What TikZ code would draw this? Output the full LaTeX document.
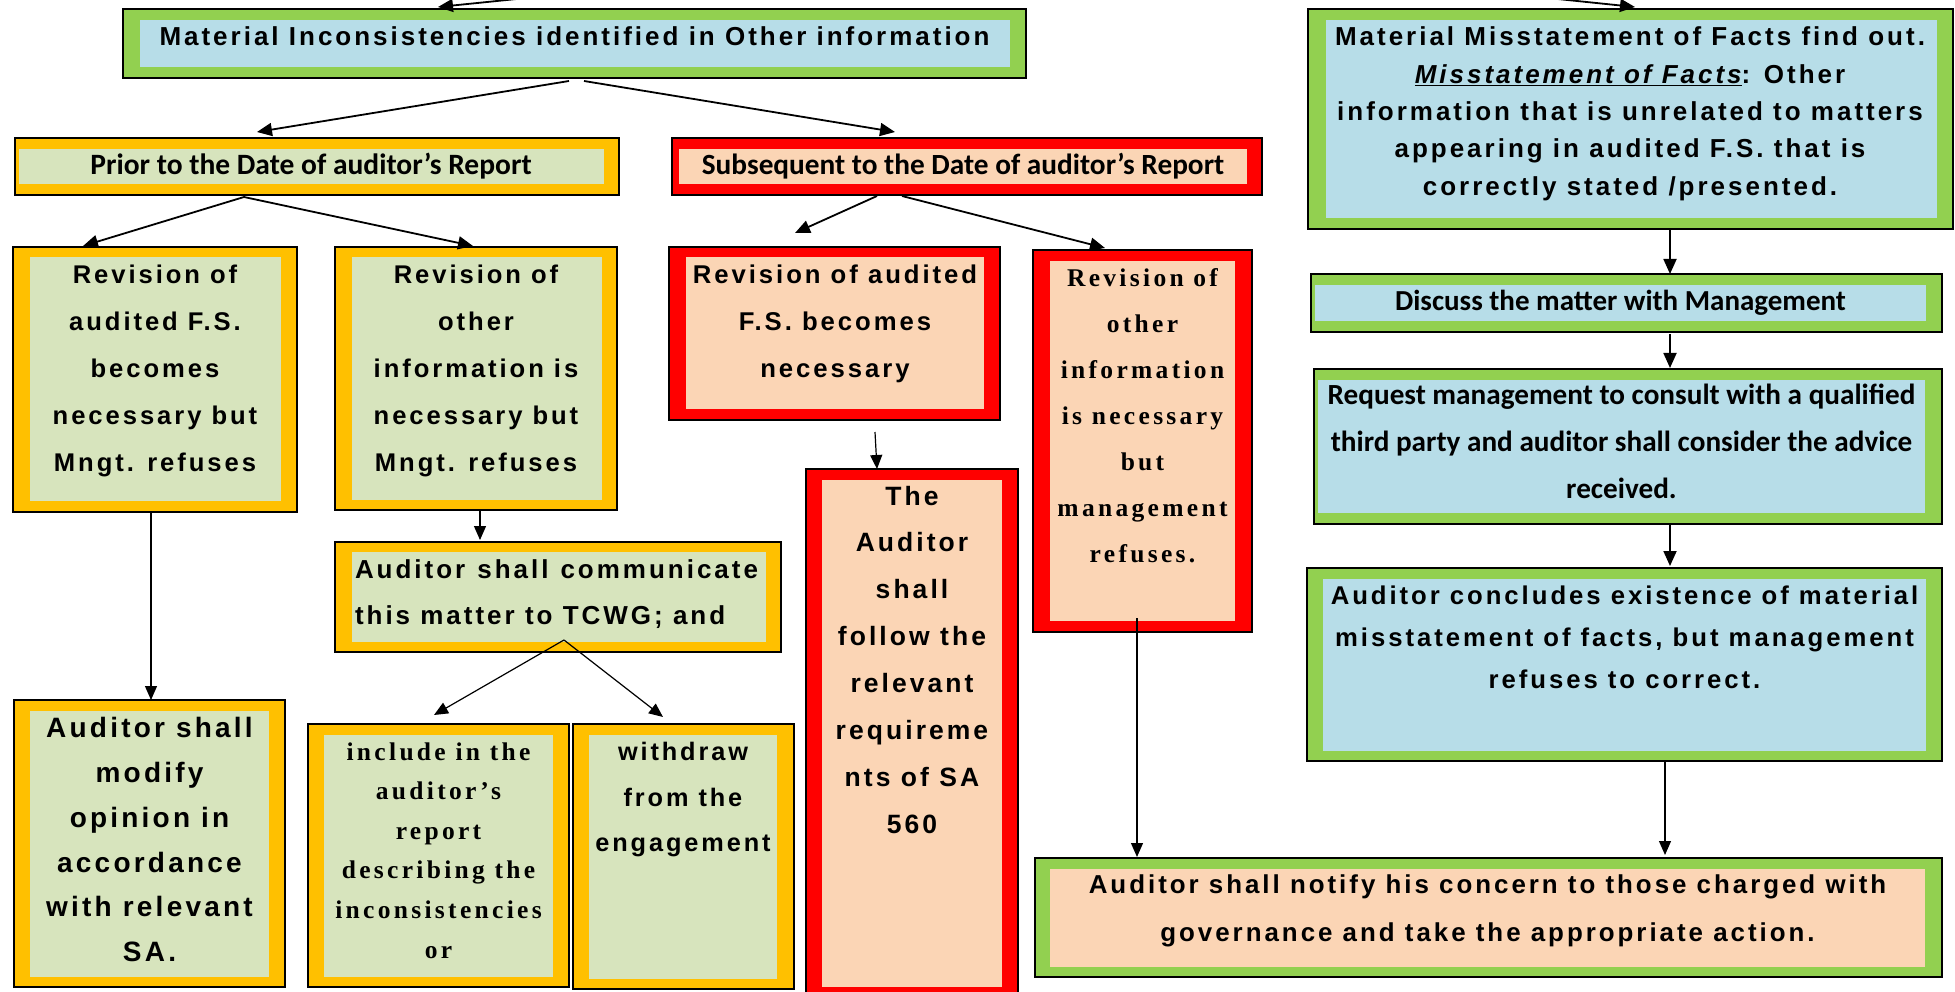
\documentclass[tikz,border=0pt]{standalone}
\usepackage{fontspec}
\usetikzlibrary{arrows.meta,calc}
\newfontfamily\fTrk[LetterSpace=11.5]{Liberation Sans}
\newfontfamily\fSerif[LetterSpace=13]{Liberation Serif}
\newfontfamily\fCal{Carlito}

\definecolor{grnB}{HTML}{92D050}
\definecolor{bluI}{HTML}{B7DDE8}
\definecolor{gldB}{HTML}{FFC000}
\definecolor{olvI}{HTML}{D7E4BD}
\definecolor{redB}{HTML}{FF0000}
\definecolor{pchI}{HTML}{FBD5B5}

\tikzset{
  % framed box: border colour, inner colour, insets left/top/right/bottom
  tbox/.style n args={6}{draw=black, line width=1.3pt, fill=#1, rectangle,
    inner sep=0pt, outer sep=0pt,
    path picture={\fill[#2]
      ([xshift=#3pt,yshift=-#4pt]path picture bounding box.north west) rectangle
      ([xshift=-#5pt,yshift=#6pt]path picture bounding box.south east);}},
  lbl/.style={inner sep=0pt, outer sep=0pt, align=center},
  tsans/.style 2 args={font={\fTrk\bfseries\fontsize{#1}{#2}\selectfont}},
  tserif/.style 2 args={font={\fSerif\bfseries\fontsize{#1}{#2}\selectfont}},
  tcal/.style 2 args={font={\fCal\bfseries\fontsize{#1}{#2}\selectfont}},
  arr/.style={-{Triangle[length=15pt,width=13pt]}, line width=1.8pt},
  arrthin/.style={-{Triangle[length=14pt,width=12pt]}, line width=1.2pt},
}

\begin{document}
\begin{tikzpicture}[x=1pt,y=-1pt]
\useasboundingbox (0,0) rectangle (1955,992);
\clip (0,0) rectangle (1955,992);
\fill[white] (0,0) rectangle (1955,992);

% ---------- boxes ----------
\node[tbox={grnB}{bluI}{17}{11}{16}{11}, minimum width=903pt, minimum height=69pt] (A) at (574.5,43.5) {};
\node[tbox={grnB}{bluI}{18}{11}{16}{11}, minimum width=645pt, minimum height=220pt] (B) at (1630.5,119) {};
\node[tbox={gldB}{olvI}{4}{11}{15}{11}, minimum width=604pt, minimum height=57pt] (P) at (317,166.5) {};
\node[tbox={redB}{pchI}{7}{11}{15}{11}, minimum width=590pt, minimum height=57pt] (S) at (967,166.5) {};
\node[tbox={gldB}{olvI}{17}{10}{16}{11}, minimum width=284pt, minimum height=265pt] (C1) at (155,379.5) {};
\node[tbox={gldB}{olvI}{17}{10}{15}{10}, minimum width=282pt, minimum height=263pt] (C2) at (476,378.5) {};
\node[tbox={gldB}{olvI}{17}{10}{15}{10}, minimum width=446pt, minimum height=110pt] (D) at (558,597) {};
\node[tbox={gldB}{olvI}{16}{11}{16}{10}, minimum width=271pt, minimum height=287pt] (E1) at (149.5,843.5) {};
\node[tbox={gldB}{olvI}{16}{11}{16}{10}, minimum width=261pt, minimum height=263pt] (E2) at (438.5,855.5) {};
\node[tbox={gldB}{olvI}{16}{11}{17}{10}, minimum width=221pt, minimum height=265pt] (E3) at (683.5,856.5) {};
\node[tbox={redB}{pchI}{17}{10}{16}{11}, minimum width=331pt, minimum height=173pt] (F1) at (834.5,333.5) {};
\node[tbox={redB}{pchI}{17}{11}{17}{11}, minimum width=219pt, minimum height=382pt] (F2) at (1142.5,441) {};
\node[tbox={redB}{pchI}{16}{11}{16}{11}, minimum width=212pt, minimum height=529pt] (G) at (912,733.5) {};
\node[tbox={grnB}{bluI}{4}{11}{16}{11}, minimum width=631pt, minimum height=58pt] (Q) at (1626.5,303) {};
\node[tbox={grnB}{bluI}{4}{11}{17}{11}, minimum width=628pt, minimum height=155pt] (R) at (1628,446.5) {};
\node[tbox={grnB}{bluI}{16}{11}{16}{10}, minimum width=635pt, minimum height=193pt] (K) at (1624.5,664.5) {};
\node[tbox={grnB}{pchI}{15}{11}{17}{10}, minimum width=907pt, minimum height=119pt] (H) at (1488.5,917.5) {};

% ---------- texts ----------
\node[lbl, tsans={26}{30}, anchor=base] (At) at (574.5,46)
  {Material Inconsistencies identified in Other information};
\node[lbl, tsans={26}{37.4}, anchor=north] (Bt) at (1630,19.5)
  {\strut Material Misstatement of Facts find out.\\
   \underline{\itshape Misstatement of Facts}: Other\\
   information that is unrelated to matters\\
   appearing in audited F.S. that is\\
   correctly stated /presented.};
\node[lbl, tcal={29.5}{34}, anchor=base] (Pt) at (311,174.5)
  {Prior to the Date of auditor’s Report};
\node[lbl, tcal={29.3}{34}, anchor=base] (St) at (963,175)
  {Subsequent to the Date of auditor’s Report};
\node[lbl, tsans={25.6}{47}, anchor=north] (C1t) at (155,250.1)
  {\strut Revision of\\ audited F.S.\\ becomes\\ necessary but\\ Mngt. refuses};
\node[lbl, tsans={25.6}{47}, anchor=north] (C2t) at (476,250.1)
  {\strut Revision of\\ other\\ information is\\ necessary but\\ Mngt. refuses};
\node[lbl, tsans={26}{46}, anchor=north west, align=left] (Dt) at (355,545.8)
  {\strut\makebox[403pt][s]{Auditor shall communicate}\\ this matter to TCWG; and};
\node[lbl, tsans={28}{44.7}, anchor=north] (E1t) at (149.5,706.7)
  {\strut Auditor shall\\ modify\\ opinion in\\ accordance\\ with relevant\\ SA.};
\node[lbl, tserif={25.5}{39.6}, anchor=north] (E2t) at (438.5,732.3)
  {\strut include in the\\ auditor’s\\ report\\ describing the\\ inconsistencies\\ or};
\node[lbl, tsans={25.3}{45.5}, anchor=north] (E3t) at (683,728.8)
  {\strut withdraw\\ from the\\ engagement};
\node[lbl, tsans={25.7}{47}, anchor=north] (F1t) at (835,250.4)
  {\strut Revision of audited\\ F.S. becomes\\ necessary};
\node[lbl, tserif={25.5}{46}, anchor=north] (F2t) at (1142.5,253.8)
  {\strut Revision of\\ other\\ information\\ is necessary\\ but\\ management\\ refuses.};
\node[lbl, tsans={26.5}{46.9}, anchor=north] (Gt) at (912,472.2)
  {\strut The\\ Auditor\\ shall\\ follow the\\ relevant\\ requireme\\ nts of SA\\ 560};
\node[lbl, tcal={29}{34}, anchor=base] (Qt) at (1620.5,311)
  {Discuss the matter with Management};
\node[lbl, tcal={29.2}{47.3}, anchor=north] (Rt) at (1621.5,370.9)
  {\strut Request management to consult with a qualified\\
   third party and auditor shall consider the advice\\ received.};
\node[lbl, tsans={25.7}{42.2}, anchor=north] (Kt) at (1624.5,574.5)
  {\strut Auditor concludes existence of material\\
   misstatement of facts, but management\\ refuses to correct.};
\node[lbl, tsans={25.9}{47.7}, anchor=north] (Ht) at (1487.5,860.6)
  {\strut Auditor shall notify his concern to those charged with\\
   governance and take the appropriate action.};

% ---------- connectors ----------
\coordinate (inL) at (556,-5);
\coordinate (inR) at (1519,-5);
\draw[arr] (inL) -- ($(A.north west)+(315,-2)$);
\draw[arr] (inR) -- ($(B.north west)+(327,-2)$);

\draw[arr] ($(A.south)+(-5.5,3)$) -- ($(P.north)+(-60,-6)$);
\draw[arr] ($(A.south)+(9.5,3)$) -- ($(S.north)+(-72,-6)$);

\draw[arr] ($(P.south)+(-73,2)$) -- ($(C1.north)+(-72,-1)$);
\draw[arr] ($(P.south)+(-73,2)$) -- ($(C2.north)+(-3,-1)$);

\draw[arr] ($(S.south)+(-90,1)$) -- ($(F1.north)+(-39.5,-14)$);
\draw[arr] ($(S.south)+(-65,1)$) -- ($(F2.north)+(-37.5,-2)$);

\draw[arrthin] ($(C1.south)+(-4,0)$) -- ($(E1.north)+(1.5,0)$);
\draw[arrthin] ($(C2.south)+(4,1)$) -- ($(D.north)+(-78,-2)$);
\draw[arrthin] ($(D.south)+(6,-12)$) -- ($(E2.north)+(-4.5,-9)$);
\draw[arrthin] ($(D.south)+(6,-12)$) -- ($(E3.north)+(-20.5,-7)$);

\draw[arrthin] ($(F1.south)+(40.5,12)$) -- ($(G.north)+(-35,0)$);
\draw[arrthin] ($(F2.south)+(-5.5,-14)$) -- ($(H.north)+(-351.5,-1)$);

\draw[arr] ($(B.south)+(39.5,0)$) -- ($(Q.north)+(43.5,0)$);
\draw[arr] ($(Q.south)+(43.5,2)$) -- ($(R.north)+(42,-1)$);
\draw[arr] ($(R.south)+(42,0)$) -- ($(K.north)+(45.5,-2)$);
\draw[arrthin] ($(K.south)+(40.5,0)$) -- ($(H.north)+(176.5,-3)$);
\end{tikzpicture}
\end{document}
